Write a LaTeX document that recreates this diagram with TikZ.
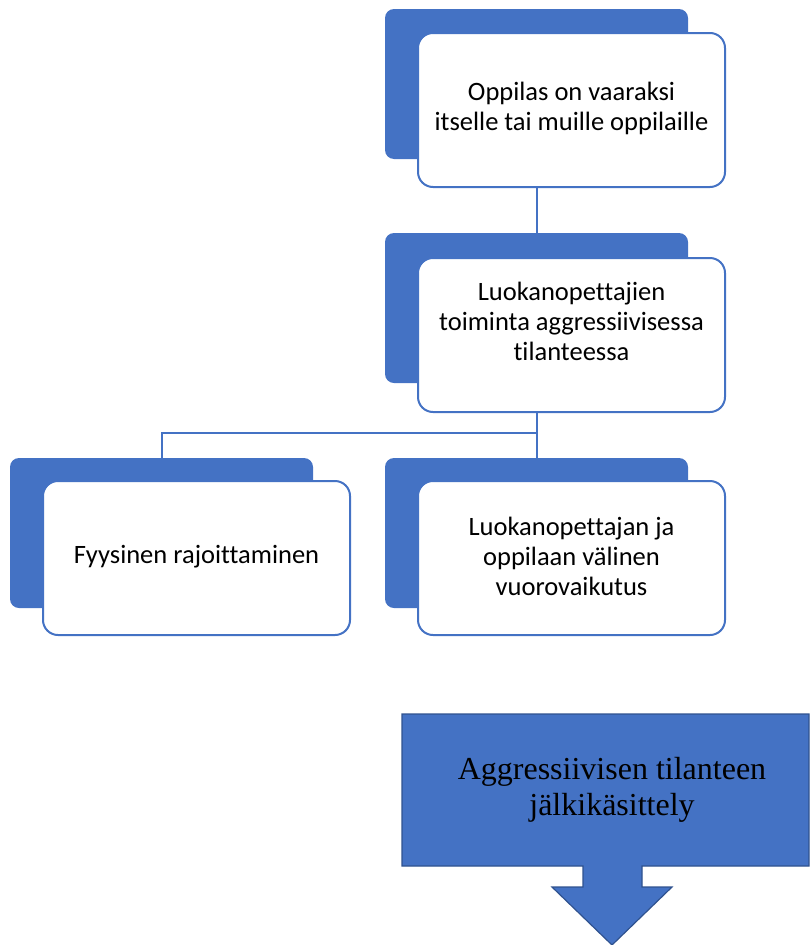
\documentclass[tikz,border=0pt]{standalone}
\usepackage{fontspec}
\setmainfont{Carlito}[Ligatures=NoCommon]
\newfontfamily\timesfont{Liberation Serif}
\definecolor{acc}{HTML}{4472C4}
\definecolor{accdark}{HTML}{2F528F}
\tikzset{
  backbox/.style={fill=acc, draw=none, rounded corners=9pt, minimum width=303pt, minimum height=150pt, anchor=north west, inner sep=0pt, outer sep=0pt},
  frontbox/.style={fill=white, draw=acc, line width=2pt, rounded corners=15pt, minimum width=307pt, minimum height=154pt, anchor=north west, inner sep=0pt, outer sep=0pt},
  boxtext/.style={align=center, inner sep=0pt, font=\fontsize{26.5}{30}\selectfont},
  link/.style={draw=acc, line width=2pt},
  callout/.style={fill=acc, draw=accdark, line width=1.2pt}
}
\begin{document}
\begin{tikzpicture}[x=1pt,y=1pt]
\useasboundingbox (0,0) rectangle (809,-945);
% top
\node[backbox] (b1) at (385,-9) {};
\node[frontbox] (f1) at (418,-33) {};
\node[boxtext] (t1) at ([yshift=2pt]f1.center) {Oppilas on vaaraksi\\itselle tai muille oppilaille};
% middle
\node[backbox] (b2) at (385,-233) {};
% bottom left / right backs
\node[backbox] (b3) at (10,-458) {};
\node[backbox] (b4) at (385,-458) {};
\coordinate (j) at (b4.north |- 0,-433);
\draw[link] (f1.south -| b2.north) -- (b2.north);
\draw[link] (j) -| (b3.north);
\draw[link] (b4.north) -- (j);
\node[frontbox] (f2) at (418,-258) {};
\node[boxtext] (t2) at ([yshift=14pt]f2.center) {Luokanopettajien\\toiminta aggressiivisessa\\tilanteessa};
\draw[link] (f2.south -| b4.north) -- (j);
\node[frontbox] (f3) at (43,-481) {};
\node[boxtext] (t3) at ([yshift=1pt]f3.center) {Fyysinen rajoittaminen};
\node[frontbox] (f4) at (418,-481) {};
\node[boxtext] (t4) at ([yshift=2pt]f4.center) {Luokanopettajan ja\\oppilaan välinen\\vuorovaikutus};
% callout arrow
\draw[callout] (402,-714) -- (809,-714) -- (809,-866) -- (642,-866) -- (642,-887) -- (672,-887) -- (612,-945) -- (552,-887) -- (583,-887) -- (583,-866) -- (402,-866) -- cycle;
\node[align=center, font=\timesfont\fontsize{32}{36}\selectfont] (c) at (612,-790) {Aggressiivisen tilanteen\\jälkikäsittely};
\end{tikzpicture}
\end{document}
